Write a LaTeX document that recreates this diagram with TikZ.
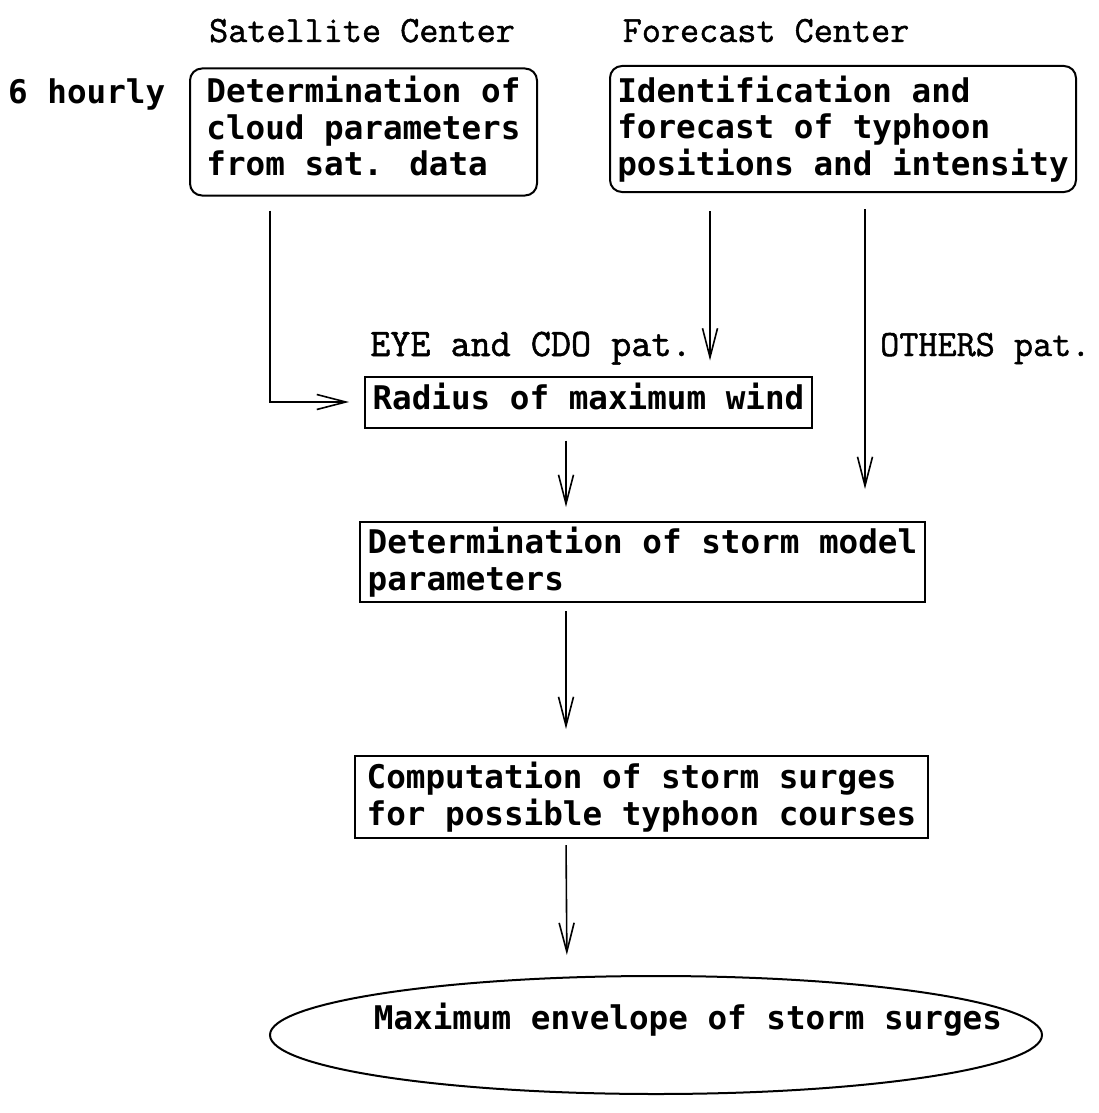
\documentclass[tikz,border=0pt]{standalone}
\usepackage{fontspec}
\usetikzlibrary{arrows.meta,shapes.geometric}
\newfontfamily\boxfont{DejaVu Sans Mono}
\newfontfamily\headfont{Latin Modern Mono}[FakeBold=1.3]
% extra depth under a last line without descenders
\newcommand\lowpad{\rule[-12pt]{0pt}{12pt}}
\begin{document}
\begin{tikzpicture}[x=1pt,y=-1pt,
  boxtext/.style={font=\boxfont\bfseries\fontsize{32.6}{36.5}\selectfont, align=left},
  roundbox/.style={draw, line width=2pt, rounded corners=12pt, boxtext, inner ysep=0pt, inner xsep=0pt},
  sqbox/.style={draw, line width=2pt, boxtext, inner ysep=0pt, inner xsep=0pt},
  head/.style={font=\headfont\fontsize{37.1}{40}\selectfont, inner sep=0pt},
  arr/.style={line width=1.6pt, -{Straight Barb[length=29pt,width=15pt,line width=1.6pt]}}]
\useasboundingbox (0,0) rectangle (1099,1113);

% column headings
\node[head, anchor=base] (hsat) at (362,42) {Satellite Center};
\node[head, anchor=base] (hfc) at (766,42) {Forecast Center};
\node[boxtext, inner sep=0pt, anchor=base west] (six) at (8,104) {6 hourly};

% input boxes
\node[roundbox, minimum width=347, minimum height=127]
  (sat) at (363.5,132) {Determination of\\cloud parameters\\from sat. data\lowpad};
\node[roundbox, minimum width=466, minimum height=126]
  (fc) at (843,129) {Identification and\\forecast of typhoon\\positions and intensity};

% pattern labels
\node[head, font=\headfont\fontsize{39}{42}\selectfont, anchor=base west] (eye) at (370,356) {EYE and CDO pat.};
\node[head, anchor=base west] (oth) at (880,356) {OTHERS pat.};

% processing chain
\node[sqbox, minimum width=447, minimum height=51]
  (rmw) at (588.5,402) {Radius of maximum wind\lowpad};
\node[sqbox, minimum width=565, minimum height=80]
  (dsm) at (642.5,562) {Determination of storm model\\parameters};
\node[sqbox, minimum width=573, minimum height=82]
  (comp) at (641.5,797) {Computation of storm surges\\for possible typhoon courses};
\node[draw, line width=2pt, ellipse, minimum width=772, minimum height=118]
  (env) at (656,1035) {};
\node[boxtext, inner sep=0pt] (envt) at (688,1020) {Maximum envelope of storm surges};

% connectors
\draw[arr, shorten <=14pt, shorten >=15pt] ([xshift=81pt]sat.south west) |- (rmw.west);
\draw[arr, shorten <=18pt, shorten >=15pt] ([xshift=101pt]fc.south west) -- ([xshift=346pt]rmw.north west);
\draw[arr, shorten <=16pt, shorten >=32pt] ([xshift=256pt]fc.south west) -- ([xshift=506pt]dsm.north west);
\draw[arr, shorten <=12pt, shorten >=14pt] ([xshift=202pt]rmw.south west) -- ([xshift=207pt]dsm.north west);
\draw[arr, shorten <=8pt, shorten >=26pt] ([xshift=207pt]dsm.south west) -- ([xshift=212pt]comp.north west);
\draw[arr, shorten <=6pt, shorten >=20pt] ([xshift=212pt]comp.south west) -- ([xshift=-89pt]env.north);
\end{tikzpicture}
\end{document}
